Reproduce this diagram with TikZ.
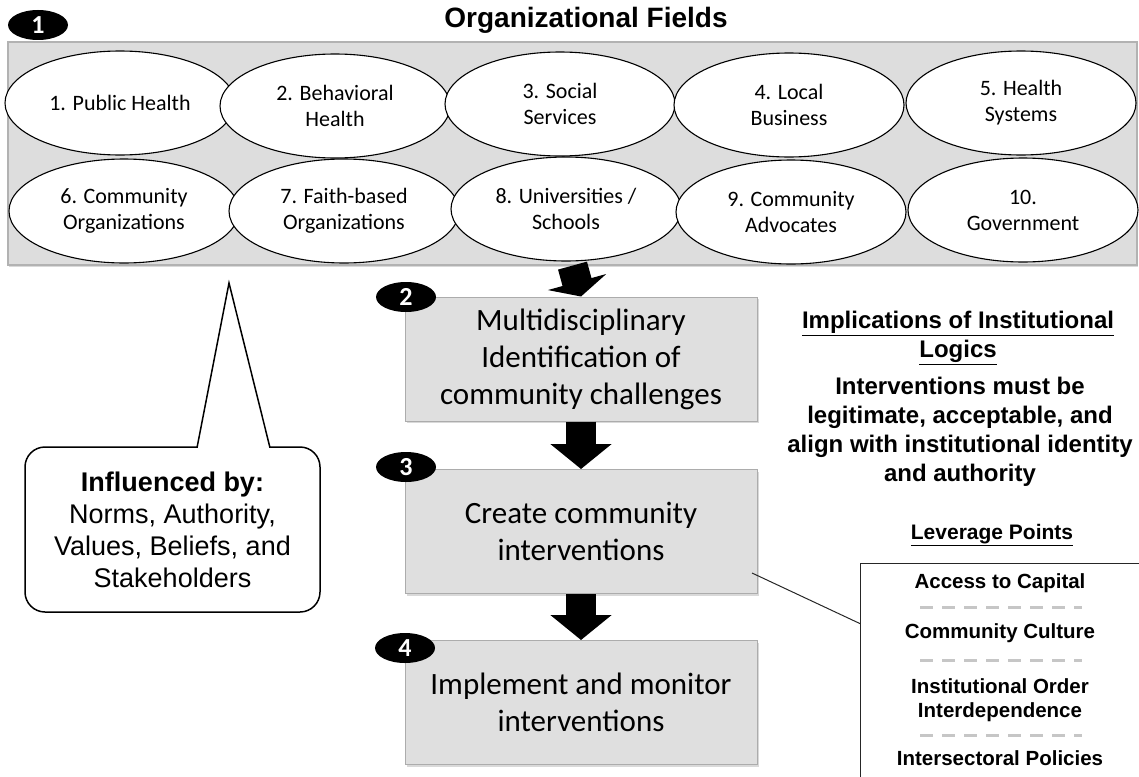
\documentclass[tikz,border=0pt]{standalone}
\usepackage{fontspec}
\setmainfont{Liberation Sans}
\newfontfamily\calib{Carlito}
\usetikzlibrary{arrows.meta,shapes.geometric,shadows}
\newcommand{\fld}[4]{\node[fld] (#1) at (#2,#3) {#4};}
\newcommand{\badge}[4]{\node[badge] (#1) at (#2,#3) {#4};}
\newcommand{\blk}[3]{\draw[blk,-{Triangle[length=#3pt,width=60pt]}] (#1) -- (#2);}

\begin{document}
\begin{tikzpicture}[x=1pt,y=-1pt,
  fld/.style={ellipse,draw,fill=white,line width=1.1pt,minimum width=230pt,minimum height=104pt,inner sep=0pt,align=center,font=\calib\fontsize{22}{26}\selectfont},
  fieldbox/.style={draw=gray!60,fill=gray!27,line width=1.2pt,minimum width=1129pt,minimum height=223pt,drop shadow={opacity=.3,shadow xshift=1pt,shadow yshift=-2pt}},
  stepbox/.style={draw=gray!65,fill=gray!25,line width=1pt,minimum width=352pt,minimum height=124pt,align=center,font=\calib\fontsize{31}{37}\selectfont,drop shadow={opacity=.3,shadow xshift=2pt,shadow yshift=-2pt}},
  badge/.style={ellipse,fill=black,text=white,minimum width=60pt,minimum height=30pt,inner sep=0pt,font=\calib\bfseries\fontsize{26}{26}\selectfont},
  blk/.style={line width=30pt,black},
  lvl/.style={align=center,font=\bfseries\fontsize{20.5}{24}\selectfont},
  sep/.style={gray!45,line width=3pt,dash pattern=on 13pt off 9pt}]
  \clip (0,0) rectangle (1139,776);
  \node[font=\bfseries\fontsize{28}{34}\selectfont,anchor=base] (title) at (586,28) {Organizational Fields};
  \node[fieldbox] (fields) at (572.5,153.5) {};
  \fld{f1}{120}{103}{1. Public Health}
  \fld{f2}{335}{106}{2. Behavioral\\Health}
  \fld{f3}{560}{104}{3. Social\\Services}
  \fld{f4}{789}{105}{4. Local\\Business}
  \fld{f5}{1021}{103}{5. Health\\Systems}
  \fld{f6}{124}{211}{6. Community\\Organizations}
  \fld{f7}{344}{211}{7. Faith-based\\Organizations}
  \fld{f8}{566}{209}{8. Universities /\\Schools}
  \fld{f9}{791}{212}{9. Community\\Advocates}
  \fld{f10}{1023}{210}{10.\\Government}

  \node[stepbox] (mdi) at (581,359) {Multidisciplinary\\Identification of\\community challenges};
  \node[stepbox] (crt) at (581,531.5) {Create community\\interventions};
  \node[stepbox] (imp) at (581,702.5) {Implement and monitor\\interventions};
  \blk{fields.south}{mdi.north}{15}
  \blk{mdi.south}{crt.north}{25}
  \blk{crt.south}{imp.north}{25}
  \badge{b1}{38}{25}{1}
  \badge{b2}{406}{297}{2}
  \badge{b3}{406}{467}{3}
  \badge{b4}{405}{648}{4}

  \node[draw,fill=white,line width=1.5pt,rounded corners=20pt,minimum width=295pt,minimum height=165pt,align=center,font=\fontsize{27}{32}\selectfont] (infl) at (172.5,529.5) {{\bfseries Influenced by:}\\Norms, Authority,\\Values, Beliefs, and\\Stakeholders};
  \coordinate (tip) at (229,283);
  \filldraw[fill=white,line width=1.5pt] ([xshift=24.5pt,yshift=-1.5pt]infl.north) -- (tip) -- ([xshift=97.5pt,yshift=-1.5pt]infl.north);

  \node[font=\bfseries\fontsize{24}{29}\selectfont,align=center] (impl) at (958,338) {\underline{Implications of Institutional}\\\underline{Logics}};
  \node[font=\bfseries\fontsize{24}{29}\selectfont,align=center] (must) at (960,432) {Interventions must be\\legitimate, acceptable, and\\align with institutional identity\\and authority};
  \node[font=\bfseries\fontsize{21}{25}\selectfont] (levt) at (992,535) {\underline{Leverage Points}};

  \node[draw=gray!30!black,line width=1.2pt,fill=white,minimum width=300pt,minimum height=240pt,anchor=north west] (lev) at (860,563) {};
  \node[lvl] (l1) at (1000,583) {Access to Capital};
  \node[lvl] (l2) at (1000,633) {Community Culture};
  \node[lvl] (l3) at (1000,700) {Institutional Order\\Interdependence};
  \node[lvl] (l4) at (1000,758) {Intersectoral Policies};
  \draw[sep] (920,607) -- (1082,607);
  \draw[sep] (920,660) -- (1082,660);
  \draw[sep] (920,735) -- (1082,735);
  \coordinate (lk) at (752,573);
  \draw[line width=1pt,gray!30!black] (lk) -- ([yshift=60pt]lev.west);
\end{tikzpicture}
\end{document}
